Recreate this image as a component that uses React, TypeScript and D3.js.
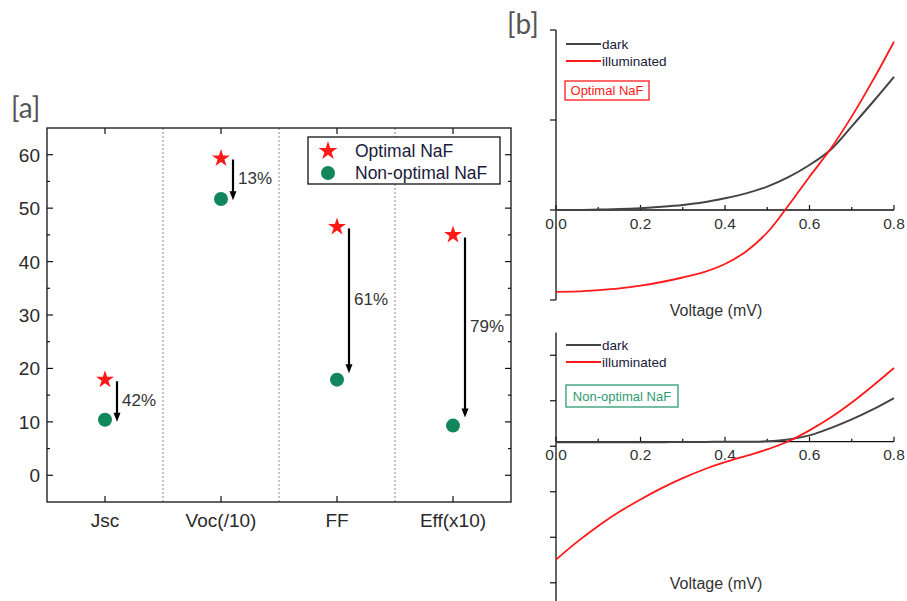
import React from 'react';
import * as d3 from 'd3';

// panel [a] : device parameters
const categories = ['Jsc', 'Voc(/10)', 'FF', 'Eff(x10)'];
const optimalValues = [17.9, 59.3, 46.5, 45.0];
const nonOptimalValues = [10.4, 51.7, 17.9, 9.3];
const arrowFrom = [17.6, 59.1, 46.2, 44.5];
const arrowTo = [10.0, 51.5, 19.1, 10.8];
const dropLabels = ['42%', '13%', '61%', '79%'];
const yTicksA = [0, 10, 20, 30, 40, 50, 60];
const yMinorA = [5, 15, 25, 35, 45, 55];

// panel [b] : J-V curves
const voltage = [0, 0.05, 0.1, 0.15, 0.2, 0.25, 0.3, 0.35, 0.4, 0.45, 0.5, 0.55, 0.6, 0.65, 0.7, 0.75, 0.8];
const optDark = [0, 0, 0.005, 0.01, 0.02, 0.035, 0.055, 0.085, 0.13, 0.185, 0.26, 0.365, 0.5, 0.67, 0.93, 1.2, 1.48];
const optLight = [-0.91, -0.905, -0.89, -0.87, -0.84, -0.8, -0.75, -0.69, -0.6, -0.46, -0.25, 0.05, 0.37, 0.68, 1.04, 1.44, 1.87];
const nonDark = [-0.01, -0.01, -0.01, -0.01, -0.01, -0.01, -0.005, -0.005, 0, 0, 0.01, 0.05, 0.14, 0.3, 0.49, 0.71, 0.96];
const nonLight = [-2.59, -2.2, -1.85, -1.54, -1.27, -1.02, -0.8, -0.61, -0.45, -0.31, -0.17, 0.01, 0.25, 0.53, 0.86, 1.23, 1.62];
const xTicksB = [0, 0.2, 0.4, 0.6, 0.8];
const xMinorB = [0.1, 0.3, 0.5, 0.7];
const yTicksTop = [-1, 0, 1, 2];
const yTicksBottom = [1.9, 0.9, -0.1, -1.1, -2.1, -3.1];

const FONT = "Arial, 'Liberation Sans', sans-serif";
const RED = '#ff1a1a';
const GREEN = '#11875b';

const PanelA = () => {
  const left = 47, right = 511, top = 128, bottom = 502;
  const x = d3.scaleBand().domain(categories).range([left, right]).padding(0);
  const y = d3.scaleLinear().domain([-5, 65]).range([bottom, top]);
  const star = d3.symbol().type(d3.symbolStar).size(100)();
  const starLegend = d3.symbol().type(d3.symbolStar).size(110)();
  const cx = (c: string) => (x(c) as number) + x.bandwidth() / 2;
  const sep = categories.slice(1).map(c => x(c) as number);

  return (
    <g>
      <text x={11} y={118} fontFamily="Lato, 'DejaVu Sans', sans-serif" fontSize={28} fill="#555">[a]</text>
      {sep.map((s, i) => (
        <line key={i} x1={s} x2={s} y1={top} y2={bottom} stroke="#b5b5b5" strokeWidth={1.6} strokeDasharray="2,2" />
      ))}
      <rect x={left} y={top} width={right - left} height={bottom - top} fill="none" stroke="#111" strokeWidth={1.3} />
      {yTicksA.map(t => (
        <g key={t}>
          <line x1={left} x2={left + 6} y1={y(t)} y2={y(t)} stroke="#111" strokeWidth={1.2} />
          <line x1={right} x2={right - 6} y1={y(t)} y2={y(t)} stroke="#111" strokeWidth={1.2} />
          <text x={40} y={y(t) + 7} textAnchor="end" fontFamily={FONT} fontSize={19} fill="#2a2a2a">{t}</text>
        </g>
      ))}
      {yMinorA.map(t => (
        <g key={t}>
          <line x1={left} x2={left + 3} y1={y(t)} y2={y(t)} stroke="#111" strokeWidth={1.2} />
          <line x1={right} x2={right - 3} y1={y(t)} y2={y(t)} stroke="#111" strokeWidth={1.2} />
        </g>
      ))}
      {categories.map(c => (
        <g key={c}>
          <line x1={cx(c)} x2={cx(c)} y1={top} y2={top + 6} stroke="#111" strokeWidth={1.2} />
          <line x1={cx(c)} x2={cx(c)} y1={bottom} y2={bottom - 6} stroke="#111" strokeWidth={1.2} />
          <text x={cx(c)} y={527} textAnchor="middle" fontFamily={FONT} fontSize={19} fill="#2a2a2a">{c}</text>
        </g>
      ))}
      {categories.map((c, i) => {
        const ax = cx(c) + 12;
        const y1 = y(arrowFrom[i]);
        const y2 = y(arrowTo[i]);
        return (
          <g key={c + 'arr'}>
            <line x1={ax} x2={ax} y1={y1} y2={y2 - 7} stroke="#000" strokeWidth={2.2} />
            <path d={`M${ax - 3.5},${y2 - 9} L${ax + 3.5},${y2 - 9} L${ax},${y2} Z`} fill="#000" />
            <text x={ax + 5} y={(y1 + y2) / 2 + 4} fontFamily={FONT} fontSize={17} fill="#333">{dropLabels[i]}</text>
          </g>
        );
      })}
      {categories.map((c, i) => (
        <g key={c + 'pts'}>
          <circle cx={cx(c)} cy={y(nonOptimalValues[i])} r={7} fill={GREEN} />
          <path d={star as string} transform={`translate(${cx(c)},${y(optimalValues[i])})`} fill={RED} />
        </g>
      ))}
      <rect x={308} y={137} width={192} height={47} fill="#fff" stroke="#111" strokeWidth={1.3} />
      <path d={starLegend as string} transform="translate(328,151)" fill={RED} />
      <circle cx={328} cy={173} r={7} fill={GREEN} />
      <text x={355} y={157} fontFamily={FONT} fontSize={17.5} fill="#1a1a3a">Optimal NaF</text>
      <text x={355} y={179} fontFamily={FONT} fontSize={17.5} fill="#1a1a3a">Non-optimal NaF</text>
    </g>
  );
};

type JVProps = {
  dark: number[];
  light: number[];
  yTicks: number[];
  yDomain: [number, number];
  yRange: [number, number];
  labelY: number;
  legendY: number;
  tag: string;
  tagColor: string;
  tagBox: [number, number, number, number];
};

const JVPanel = ({ dark, light, yTicks, yDomain, yRange, labelY, legendY, tag, tagColor, tagBox }: JVProps) => {
  const x = d3.scaleLinear().domain([0, 0.8]).range([556, 894]);
  const y = d3.scaleLinear().domain(yDomain).range(yRange);
  const line = d3.line<number>()
    .x((_, i) => x(voltage[i]))
    .y(d => y(d))
    .curve(d3.curveCatmullRom.alpha(0.5));
  const y0 = y(0);
  const [bx, by, bw, bh] = tagBox;
  return (
    <g>
      <line x1={556} x2={556} y1={yRange[1]} y2={yRange[0]} stroke="#111" strokeWidth={1.3} />
      {yTicks.map(t => (
        <line key={t} x1={550} x2={556} y1={y(t)} y2={y(t)} stroke="#111" strokeWidth={1.2} />
      ))}
      <line x1={556} x2={894} y1={y0} y2={y0} stroke="#111" strokeWidth={1.3} />
      {xTicksB.map(t => (
        <g key={t}>
          <line x1={x(t)} x2={x(t)} y1={y0} y2={y0 - 5} stroke="#111" strokeWidth={1.2} />
          <text x={x(t)} y={y0 + 18.5} textAnchor="middle" fontFamily={FONT} fontSize={15.5} fill="#333">{t.toFixed(1)}</text>
        </g>
      ))}
      {xMinorB.map(t => (
        <line key={t} x1={x(t)} x2={x(t)} y1={y0} y2={y0 - 3} stroke="#111" strokeWidth={1.2} />
      ))}
      <path d={line(dark) as string} fill="none" stroke="#444" strokeWidth={2} />
      <path d={line(light) as string} fill="none" stroke={RED} strokeWidth={1.8} />
      <text x={716} y={labelY} textAnchor="middle" fontFamily={FONT} fontSize={16} fill="#333">Voltage (mV)</text>
      <line x1={566} x2={601} y1={legendY} y2={legendY} stroke="#444" strokeWidth={2} />
      <line x1={566} x2={601} y1={legendY + 17} y2={legendY + 17} stroke={RED} strokeWidth={2} />
      <text x={602} y={legendY + 4.5} fontFamily={FONT} fontSize={13.5} fill="#1a1a3a">dark</text>
      <text x={602} y={legendY + 21.5} fontFamily={FONT} fontSize={13.5} fill="#1a1a3a">illuminated</text>
      <rect x={bx} y={by} width={bw} height={bh} fill="#fff" stroke={tagColor} strokeWidth={1.3} />
      <text x={bx + bw / 2} y={by + bh / 2 + 4.5} textAnchor="middle" fontFamily={FONT} fontSize={13} fill={tagColor}>{tag}</text>
    </g>
  );
};

const App = () => (
  <svg width={907} height={601} style={{ position: 'absolute', left: 0, top: 0, background: '#fff' }}>
    <PanelA />
    <text x={507} y={34} fontFamily="Lato, 'DejaVu Sans', sans-serif" fontSize={28} fill="#555">[b]</text>
    <JVPanel
      dark={optDark}
      light={optLight}
      yTicks={yTicksTop}
      yDomain={[-1, 2]}
      yRange={[300, 30]}
      labelY={316}
      legendY={44}
      tag="Optimal NaF"
      tagColor={RED}
      tagBox={[565, 81, 84, 19]}
    />
    <JVPanel
      dark={nonDark}
      light={nonLight}
      yTicks={yTicksBottom}
      yDomain={[-3.5, 2.4]}
      yRange={[601, 332.5]}
      labelY={589}
      legendY={345}
      tag="Non-optimal NaF"
      tagColor="#2f9a70"
      tagBox={[566, 385, 112, 22]}
    />
  </svg>
);

export default App;
